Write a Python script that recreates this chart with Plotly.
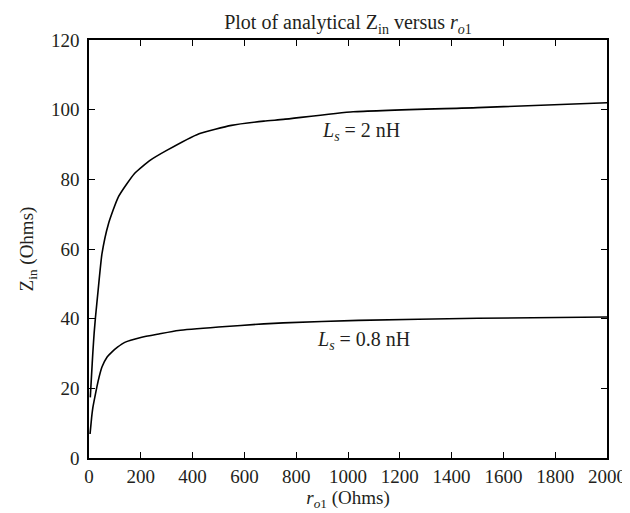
import plotly.graph_objects as go

r_2nH = [5, 10, 15, 20, 25, 35, 50, 75, 113, 175, 237, 300, 425, 550, 675, 750, 1020, 1500, 2000]
z_2nH = [17.4, 24, 30.5, 36, 40.4, 48, 58.6, 67.2, 74.9, 81.6, 85.5, 88.3, 93.1, 95.5, 96.7, 97.2, 99.4, 100.6, 102.0]

r_08nH = [4, 10, 15, 25, 35, 50, 70, 88, 110, 138, 200, 270, 345, 500, 675, 750, 1040, 1500, 2000]
z_08nH = [6.9, 11.5, 14.5, 18.4, 22, 26.1, 29, 30.4, 31.8, 33.2, 34.6, 35.6, 36.6, 37.6, 38.5, 38.8, 39.5, 40.1, 40.5]

x_ticks = list(range(0, 2001, 200))
y_ticks = list(range(0, 121, 20))

font_family = "Liberation Serif, Times New Roman, serif"
txt = "#231f20"

fig = go.Figure()
fig.add_trace(go.Scatter(x=r_2nH, y=z_2nH, mode="lines",
                         line=dict(color="black", width=1.6, shape="spline", smoothing=0.5),
                         showlegend=False))
fig.add_trace(go.Scatter(x=r_08nH, y=z_08nH, mode="lines",
                         line=dict(color="black", width=1.6, shape="spline", smoothing=0.5),
                         showlegend=False))

fig.add_annotation(x=1050, y=93.6, text="<i>L<sub>s</sub></i> = 2 nH", showarrow=False,
                   font=dict(size=20, color=txt, family=font_family))
fig.add_annotation(x=1060, y=33.8, text="<i>L<sub>s</sub></i> = 0.8 nH", showarrow=False,
                   font=dict(size=20, color=txt, family=font_family))

axis_common = dict(showgrid=False, zeroline=False, showline=True, linecolor="black",
                   linewidth=1.5, mirror="ticks", ticks="inside", ticklen=6,
                   tickwidth=1.3, tickcolor="black",
                   tickfont=dict(size=19, color=txt, family=font_family))

fig.update_layout(
    width=630, height=513,
    margin=dict(l=81, r=19, t=32, b=63),
    paper_bgcolor="white", plot_bgcolor="white",
    title=dict(text="Plot of analytical Z<sub>in</sub> versus <i>r</i><sub><i>o</i>1</sub>",
               xref="paper", x=0.5, xanchor="center", y=0.972, yanchor="middle",
               font=dict(size=20, color=txt, family=font_family)),
    xaxis=dict(range=[0, 2000], tickvals=x_ticks,
               title=dict(text="<i>r</i><sub><i>o</i>1</sub> (Ohms)", standoff=3,
                          font=dict(size=19, color=txt, family=font_family)),
               **axis_common),
    yaxis=dict(range=[0, 120], tickvals=y_ticks, ticklabelstandoff=4,
               title=dict(text="Z<sub>in</sub> (Ohms)", standoff=12,
                          font=dict(size=19, color=txt, family=font_family)),
               **axis_common),
)

fig.write_html("out.html")
